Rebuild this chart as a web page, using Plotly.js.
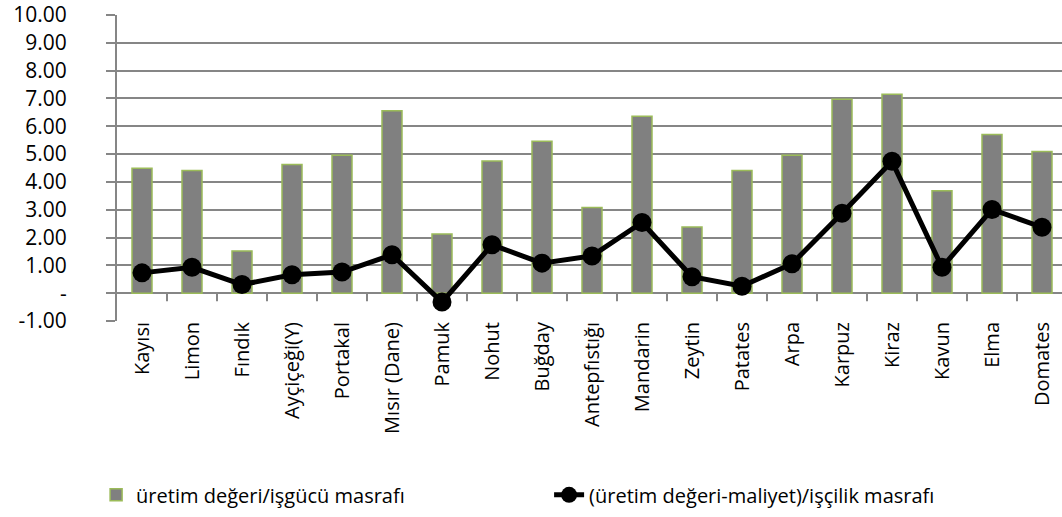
<!DOCTYPE html>
<html><head><meta charset="utf-8">
<script src="https://cdn.plot.ly/plotly-3.0.1.min.js"></script>
<style>html,body{margin:0;padding:0;overflow:hidden;background:#fff}#chart{width:1070px;height:517px}</style>
</head><body><div id="chart"></div>
<script>
const categories = ["Kayısı","Limon","Fındık","Ayçiçeği(Y)","Portakal","Mısır (Dane)","Pamuk","Nohut","Buğday","Antepfıstığı","Mandarin","Zeytin","Patates","Arpa","Karpuz","Kiraz","Kavun","Elma","Domates"];
const barValues = [4.49,4.41,1.52,4.63,4.96,6.56,2.13,4.75,5.46,3.08,6.36,2.38,4.41,4.96,6.97,7.15,3.68,5.70,5.09];
const lineValues = [0.73,0.93,0.31,0.66,0.76,1.38,-0.32,1.74,1.08,1.34,2.54,0.59,0.25,1.06,2.87,4.74,0.93,3.01,2.37];
const barName = "üretim değeri/işgücü masrafı";
const lineName = "(üretim değeri-maliyet)/işçilik masrafı";
const yTickVals = [-1,0,1,2,3,4,5,6,7,8,9,10];
const yTickText = ["-1.00","-","1.00","2.00","3.00","4.00","5.00","6.00","7.00","8.00","9.00","10.00"];

const fam = "'Open Sans', Lato, sans-serif";
const gridCol = "#868686";
const xIdx = categories.map((c,i)=>i);

const traces = [
  {type:"bar", x:xIdx, y:barValues, name:barName,
   marker:{color:"#808080", line:{color:"#9BBB59", width:1.5}}},
  {type:"scatter", mode:"lines+markers", x:xIdx, y:lineValues, name:lineName,
   line:{color:"#000", width:5}, marker:{color:"#000", size:19}}
];

const shapes = [];
for (let i=0;i<categories.length-1;i++){
  shapes.push({type:"line", xref:"x", yref:"y", x0:i+0.5, x1:i+0.5, y0:0, y1:-0.29,
    line:{color:gridCol, width:2}});
}

const layout = {
  width:1070, height:517,
  margin:{l:117, r:3, t:15, b:194},
  paper_bgcolor:"#fff", plot_bgcolor:"#fff",
  font: {family:fam, size:20, color:"#000"},
  showlegend:true,
  bargap:0.6,
  xaxis:{type:"linear", range:[-0.5, categories.length-0.5], tickvals:xIdx, ticktext:categories,
    tickangle:-90, showgrid:false, zeroline:false, showline:false, ticks:"",
    ticklabelstandoff:-4,
    tickfont:{family:fam, size:20, color:"#000"}},
  yaxis:{range:[-1,10], tickvals:yTickVals, ticktext:yTickText,
    showgrid:true, gridcolor:gridCol, gridwidth:2,
    zeroline:true, zerolinecolor:gridCol, zerolinewidth:2,
    showline:true, linecolor:gridCol, linewidth:2,
    ticks:"outside", ticklen:9, tickcolor:gridCol, tickwidth:2,
    ticklabelstandoff:35, ticklabeloverflow:"allow",
    tickfont:{family:fam, size:21, color:"#000"}},
  legend:{orientation:"h", x:-0.022, y:-0.568, xanchor:"left", yanchor:"middle",
    entrywidth:408, entrywidthmode:"pixels",
    font:{family:fam, size:20, color:"#000"}, traceorder:"normal"},
  shapes: shapes
};

Plotly.newPlot("chart", traces, layout, {displayModeBar:false, staticPlot:true});
</script>
</body></html>
